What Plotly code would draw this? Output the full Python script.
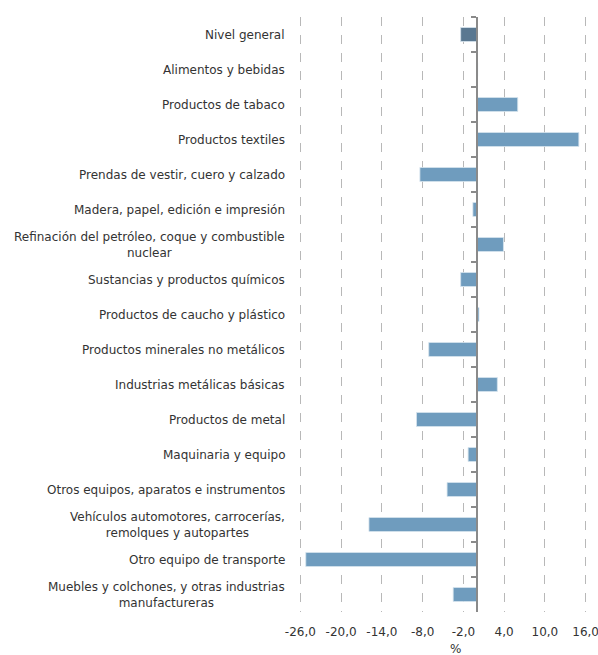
import plotly.graph_objects as go

categories = [
    "Nivel general",
    "Alimentos y bebidas",
    "Productos de tabaco",
    "Productos textiles",
    "Prendas de vestir, cuero y calzado",
    "Madera, papel, edición e impresión",
    "Refinación del petróleo, coque y combustible<br>nuclear",
    "Sustancias y productos químicos",
    "Productos de caucho y plástico",
    "Productos minerales no metálicos",
    "Industrias metálicas básicas",
    "Productos de metal",
    "Maquinaria y equipo",
    "Otros equipos, aparatos e instrumentos",
    "Vehículos automotores, carrocerías,<br>remolques y autopartes",
    "Otro equipo de transporte",
    "Muebles y colchones, y otras industrias<br>manufactureras",
]
values = [-2.4, 0.1, 6.0, 15.0, -8.4, -0.6, 3.9, -2.4, 0.3, -7.1, 3.0, -8.9, -1.3, -4.4, -15.9, -25.2, -3.5]
x_ticks = [-26, -20, -14, -8, -2, 4, 10, 16]
x_ticktext = ["-26,0", "-20,0", "-14,0", "-8,0", "-2,0", "4,0", "10,0", "16,0"]
x_title = "%"

LIGHT = "#6f9cbe"
DARK = "#5a7891"
FONT = "DejaVu Sans, Liberation Sans, Arial, sans-serif"
colors = [DARK if c == "Nivel general" else LIGHT for c in categories]

fig = go.Figure()
fig.add_trace(go.Bar(
    x=values, y=categories, orientation="h",
    marker=dict(color=colors, line=dict(color="#d6e3ee", width=0.8)),
    width=0.4, showlegend=False, hoverinfo="skip",
))
# invisible trace to host the zero-axis (line + boundary ticks)
fig.add_trace(go.Scatter(
    x=[0] * len(categories), y=categories, yaxis="y2", mode="markers",
    marker=dict(opacity=0), showlegend=False, hoverinfo="skip",
))

xmin, xmax = -26, 16
pad = 0.2
n = len(categories)
yrange = [n - 0.5, -0.5]
for c in categories:
    fig.add_annotation(
        x=0, xref="paper", xanchor="right", xshift=-12,
        y=c, yref="y", text=c, showarrow=False, align="center",
        font=dict(family=FONT, size=12, color="#333333"),
    )
fig.add_annotation(
    x=(xmin + xmax) / 2 + 1.8, xref="x", y=0, yref="paper", yshift=-28,
    yanchor="top", text=x_title, showarrow=False,
    font=dict(family=FONT, size=12, color="#333333"),
)

fig.update_layout(
    width=598, height=655,
    margin=dict(l=299, r=11, t=17, b=43, autoexpand=False),
    plot_bgcolor="white", paper_bgcolor="white",
    font=dict(family=FONT, size=12, color="#333333"),
    xaxis=dict(
        range=[xmin - pad, xmax + pad], automargin=False,
        tickvals=x_ticks, ticktext=x_ticktext, ticklabeloverflow="allow",
        showgrid=True, gridcolor="#b8b8b8", griddash="dash", gridwidth=1,
        zeroline=False, showline=False,
        ticks="outside", ticklen=9, tickcolor="rgba(0,0,0,0)",
        tickfont=dict(size=12, color="#333333"),
    ),
    yaxis=dict(
        categoryorder="array", categoryarray=categories, automargin=False,
        range=yrange,
        showticklabels=False, showgrid=False, zeroline=False, showline=False,
    ),
    yaxis2=dict(
        overlaying="y", anchor="free", automargin=False,
        position=(0 - (xmin - pad)) / (xmax - xmin + 2 * pad), range=yrange,
        showticklabels=False, showgrid=False, zeroline=False,
        showline=True, linecolor="#8a8a8a", linewidth=1.5,
        ticks="outside", tickson="boundaries", ticklen=5, tickcolor="#8a8a8a", tickwidth=1.5,
        categoryorder="array", categoryarray=categories,
    ),
    bargap=0.6,
)

fig.write_html(
    "out.html",
    config={"displayModeBar": False},
    post_script="document.body.style.margin='0';document.body.style.overflow='hidden';",
)
